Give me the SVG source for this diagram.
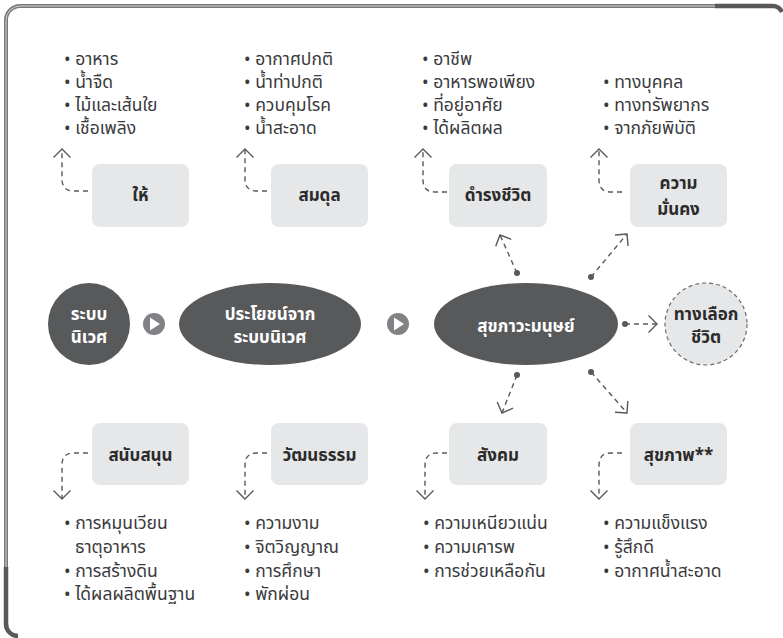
<svg xmlns="http://www.w3.org/2000/svg" width="783" height="638" viewBox="0 0 783 638">
<style>
.box{fill:#e6e7e8}
.lbl{font-family:"Noto Sans Thai","Noto Sans",sans-serif;font-size:17px;font-weight:700;fill:#2b2b2b;text-anchor:middle}
.wl{font-family:"Noto Sans Thai","Noto Sans",sans-serif;font-size:17px;font-weight:700;fill:#ffffff;text-anchor:middle}
.li{font-family:"Noto Sans Thai","Noto Sans",sans-serif;font-size:17.5px;fill:#3a3a3c}
.dark{fill:#58595b}
.con{fill:none;stroke:#58595b;stroke-width:1.4;stroke-dasharray:5 4}
.dot{fill:#58595b}
</style>
<defs>
<marker id="arr" markerUnits="userSpaceOnUse" markerWidth="22" markerHeight="22" viewBox="-11 -11 22 22" refX="0" refY="0" orient="auto" overflow="visible">
<path d="M-8.5,-8.5 L0,0 L-8.5,8.5" fill="none" stroke="#58595b" stroke-width="1.4" stroke-dasharray="none"/>
</marker>
</defs>
<rect width="783" height="638" fill="#ffffff"/>
<g id="frame">
<path d="M6,569 V20 A14,14 0 0 1 20,6 H716" fill="none" stroke="#77787b" stroke-width="4"/>
<path d="M6,569 V20 A14,14 0 0 1 20,6 H716" fill="none" stroke="#d6d6d6" stroke-width="1"/>
<path d="M715,6 H772 A10,10 0 0 1 782,12" fill="none" stroke="#58595b" stroke-width="4.5"/>
<path d="M6,567 V624 A12,12 0 0 0 18,636" fill="none" stroke="#58595b" stroke-width="4.5"/>
</g>
<g id="connectors">
<path class="con" d="M88,191 H74 Q62,191 62,179 V149" marker-end="url(#arr)"/>
<path class="con" d="M267,191 H257 Q245,191 245,179 V149" marker-end="url(#arr)"/>
<path class="con" d="M447,192 H435 Q423,192 423,180 V149" marker-end="url(#arr)"/>
<path class="con" d="M622,192 H611 Q599,192 599,180 V149" marker-end="url(#arr)"/>
<path class="con" d="M88,453 H74 Q62,453 62,465 V499" marker-end="url(#arr)"/>
<path class="con" d="M267,453 H257 Q245,453 245,465 V499" marker-end="url(#arr)"/>
<path class="con" d="M447,453 H437 Q425,453 425,465 V499" marker-end="url(#arr)"/>
<path class="con" d="M622,453 H611 Q599,453 599,465 V499" marker-end="url(#arr)"/>
<circle class="dot" cx="517" cy="273" r="3"/>
<path class="con" d="M517,273 L500,235" marker-end="url(#arr)"/>
<circle class="dot" cx="591" cy="277" r="3"/>
<path class="con" d="M591,277 L627,234" marker-end="url(#arr)"/>
<circle class="dot" cx="517" cy="375" r="3"/>
<path class="con" d="M517,375 L502,413" marker-end="url(#arr)"/>
<circle class="dot" cx="591" cy="372" r="3"/>
<path class="con" d="M591,372 L627,413" marker-end="url(#arr)"/>
<circle class="dot" cx="625" cy="324" r="3"/>
<path class="con" d="M625,324 H657" marker-end="url(#arr)"/>
<g id="play1"><circle cx="154" cy="324" r="11" fill="#808285"/><path d="M150,317.5 L160,324 L150,330.5 Z" fill="#ffffff"/></g>
<g id="play2"><circle cx="398" cy="324" r="11" fill="#808285"/><path d="M394,317.5 L404,324 L394,330.5 Z" fill="#ffffff"/></g>
</g>
<g id="n-ecosystem"><circle class="dark" cx="89" cy="324" r="41"/><text class="wl"><tspan x="89" y="320">ระบบ</tspan><tspan x="89" y="343">นิเวศ</tspan></text></g>
<g id="n-benefit"><ellipse class="dark" cx="270" cy="324" rx="91" ry="41"/><text class="wl"><tspan x="270" y="320">ประโยชน์จาก</tspan><tspan x="270" y="343">ระบบนิเวศ</tspan></text></g>
<g id="n-wellbeing"><ellipse class="dark" cx="526" cy="324" rx="92" ry="41"/><text class="wl" x="526" y="332">สุขภาวะมนุษย์</text></g>
<g id="n-choice"><circle cx="706" cy="324" r="41" fill="#e6e7e8" stroke="#6d6e71" stroke-width="1.2" stroke-dasharray="4 3"/><text class="lbl"><tspan x="706" y="320">ทางเลือก</tspan><tspan x="706" y="343">ชีวิต</tspan></text></g>
<g id="n-give"><rect class="box" x="92" y="164" width="97" height="63" rx="8"/><text class="lbl" x="140.5" y="201">ให้</text></g>
<g id="n-balance"><rect class="box" x="271" y="164" width="97" height="63" rx="8"/><text class="lbl" x="319.5" y="201">สมดุล</text></g>
<g id="n-livelihood"><rect class="box" x="449" y="164" width="98" height="63" rx="8"/><text class="lbl" x="498" y="201">ดำรงชีวิต</text></g>
<g id="n-security"><rect class="box" x="630" y="164" width="97" height="63" rx="8"/><text class="lbl"><tspan x="678.5" y="189">ความ</tspan><tspan x="678.5" y="215">มั่นคง</tspan></text></g>
<g id="n-support"><rect class="box" x="92" y="423" width="97" height="62" rx="8"/><text class="lbl" x="140.5" y="461">สนับสนุน</text></g>
<g id="n-culture"><rect class="box" x="271" y="423" width="97" height="62" rx="8"/><text class="lbl" x="319.5" y="461">วัฒนธรรม</text></g>
<g id="n-social"><rect class="box" x="449" y="423" width="98" height="62" rx="8"/><text class="lbl" x="498" y="461">สังคม</text></g>
<g id="n-health"><rect class="box" x="630" y="423" width="97" height="62" rx="8"/><text class="lbl" x="678.5" y="461">สุขภาพ**</text></g>
<g id="list-give"><text class="li">
<tspan x="64" y="65">• อาหาร</tspan>
<tspan x="64" y="88">• น้ำจืด</tspan>
<tspan x="64" y="111">• ไม้และเส้นใย</tspan>
<tspan x="64" y="134">• เชื้อเพลิง</tspan>
</text></g>
<g id="list-balance"><text class="li">
<tspan x="244" y="65">• อากาศปกติ</tspan>
<tspan x="244" y="88">• น้ำท่าปกติ</tspan>
<tspan x="244" y="111">• ควบคุมโรค</tspan>
<tspan x="244" y="134">• น้ำสะอาด</tspan>
</text></g>
<g id="list-livelihood"><text class="li">
<tspan x="422" y="65">• อาชีพ</tspan>
<tspan x="422" y="88">• อาหารพอเพียง</tspan>
<tspan x="422" y="111">• ที่อยู่อาศัย</tspan>
<tspan x="422" y="134">• ได้ผลิตผล</tspan>
</text></g>
<g id="list-security"><text class="li">
<tspan x="603" y="88">• ทางบุคคล</tspan>
<tspan x="603" y="111">• ทางทรัพยากร</tspan>
<tspan x="603" y="134">• จากภัยพิบัติ</tspan>
</text></g>
<g id="list-support"><text class="li">
<tspan x="64" y="529">• การหมุนเวียน</tspan>
<tspan x="75" y="553">ธาตุอาหาร</tspan>
<tspan x="64" y="577">• การสร้างดิน</tspan>
<tspan x="64" y="600">• ได้ผลผลิตพื้นฐาน</tspan>
</text></g>
<g id="list-culture"><text class="li">
<tspan x="244" y="529">• ความงาม</tspan>
<tspan x="244" y="553">• จิตวิญญาณ</tspan>
<tspan x="244" y="577">• การศึกษา</tspan>
<tspan x="244" y="600">• พักผ่อน</tspan>
</text></g>
<g id="list-social"><text class="li">
<tspan x="423" y="529">• ความเหนียวแน่น</tspan>
<tspan x="423" y="553">• ความเคารพ</tspan>
<tspan x="423" y="577">• การช่วยเหลือกัน</tspan>
</text></g>
<g id="list-health"><text class="li">
<tspan x="603" y="529">• ความแข็งแรง</tspan>
<tspan x="603" y="553">• รู้สึกดี</tspan>
<tspan x="603" y="577">• อากาศน้ำสะอาด</tspan>
</text></g>
</svg>
